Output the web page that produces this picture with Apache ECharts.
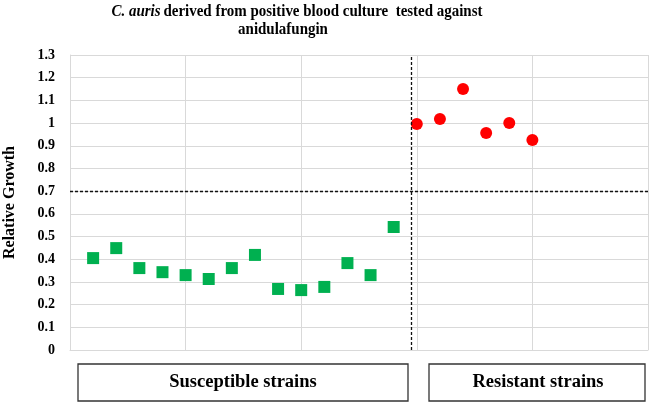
<!DOCTYPE html>
<html><head><meta charset="utf-8">
<script src="https://cdn.jsdelivr.net/npm/echarts@6/dist/echarts.min.js"></script>
<style>html,body{margin:0;padding:0;background:#fff}#c{width:653px;height:404px}</style>
</head><body><div id="c"></div>
<script>
var susceptibleX = [1,2,3,4,5,6,7,8,9,10,11,12,13,14];
var susceptibleY = [0.405,0.449,0.361,0.343,0.33,0.313,0.361,0.419,0.269,0.264,0.278,0.383,0.33,0.542];
var resistantX = [15,16,17,18,19,20];
var resistantY = [0.996,1.018,1.15,0.956,1.0,0.925];
var yTicks = [0,0.1,0.2,0.3,0.4,0.5,0.6,0.7,0.8,0.9,1,1.1,1.2,1.3];
var cutoffY = 0.7;
var dividerX = 14.75;
var groupLabels = ['Susceptible strains','Resistant strains'];

var serif = '"Liberation Serif","Times New Roman",serif';
var chart = echarts.init(document.getElementById('c'));
chart.setOption({
  animation:false,
  backgroundColor:'#fff',
  grid:{left:70,right:5,top:55,bottom:54,containLabel:false,outerBoundsMode:'none'},
  xAxis:{type:'value',min:0,max:25,interval:5,
    axisLine:{show:true,lineStyle:{color:'#d9d9d9'}},axisTick:{show:false},axisLabel:{show:false},
    splitLine:{show:true,lineStyle:{color:'#d9d9d9'}}},
  yAxis:{type:'value',min:0,max:1.3,interval:0.1,
    name:'Relative Growth',nameLocation:'middle',nameGap:52,
    nameTextStyle:{fontFamily:serif,fontWeight:'bold',fontSize:16,color:'#000'},
    axisLine:{show:true,lineStyle:{color:'#d9d9d9'}},axisTick:{show:false},
    axisLabel:{fontFamily:serif,fontWeight:'bold',fontSize:14,color:'#000',margin:15,
      formatter:function(v){var r=Math.round(v*10)/10; return yTicks.indexOf(r)>=0?String(r):'';}},
    splitLine:{show:true,lineStyle:{color:'#d9d9d9'}}},
  series:[
    {type:'scatter',symbol:'rect',symbolSize:12,
      itemStyle:{color:'#00b050',opacity:1},
      data:susceptibleX.map(function(x,i){return [x,susceptibleY[i]];}),
      markLine:{silent:true,symbol:'none',label:{show:false},
        lineStyle:{color:'#111',type:[3,2],width:1.3,opacity:1},
        data:[{yAxis:cutoffY},{xAxis:dividerX}]}},
    {type:'scatter',symbol:'circle',symbolSize:12,
      itemStyle:{color:'#ff0000',opacity:1},
      data:resistantX.map(function(x,i){return [x,resistantY[i]];})}
  ],
  graphic:[
    {type:'text',x:297,y:12,scaleX:0.88,style:{
      text:'{i|C. auris} {b|derived from positive blood culture  tested against}',
      align:'center',verticalAlign:'middle',
      rich:{i:{fontFamily:serif,fontWeight:'bold',fontStyle:'italic',fontSize:17,fill:'#000'},
            b:{fontFamily:serif,fontWeight:'bold',fontSize:17,fill:'#000'}}}},
    {type:'text',x:283,y:30,scaleX:0.88,style:{
      text:'anidulafungin',align:'center',verticalAlign:'middle',
      font:'bold 17px '+serif,fill:'#000'}},
    {type:'rect',shape:{x:78,y:364,width:330,height:37},style:{fill:'#fff',stroke:'#333',lineWidth:1.3}},
    {type:'text',style:{x:243,y:382.5,text:groupLabels[0],align:'center',verticalAlign:'middle',
      font:'bold 18.5px '+serif,fill:'#000'}},
    {type:'rect',shape:{x:429,y:364,width:216,height:37},style:{fill:'#fff',stroke:'#333',lineWidth:1.3}},
    {type:'text',style:{x:538,y:382.5,text:groupLabels[1],align:'center',verticalAlign:'middle',
      font:'bold 18.5px '+serif,fill:'#000'}}
  ]
});
</script></body></html>
